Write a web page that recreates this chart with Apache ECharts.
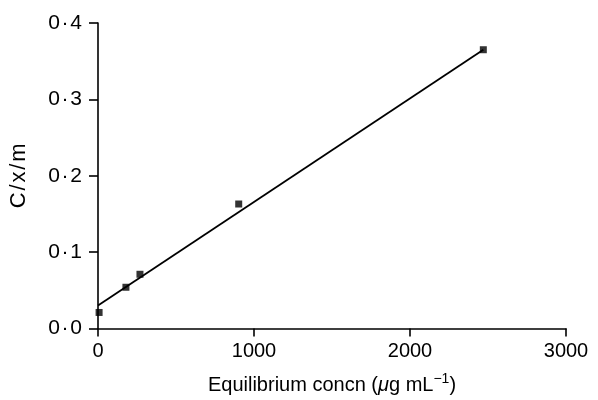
<!DOCTYPE html>
<html>
<head>
<meta charset="utf-8">
<script src="https://cdn.jsdelivr.net/npm/echarts@6/dist/echarts.min.js"></script>
<style>
  html, body { margin: 0; padding: 0; background: #fff; }
  #chart { width: 598px; height: 400px; }
</style>
</head>
<body>
<div id="chart"></div>
<script>
// measured points (equilibrium concn, C/x/m)
var concn = [7, 179, 269, 902, 2470];
var cxm = [0.021, 0.054, 0.071, 0.163, 0.365];
// fitted straight line, end points
var fitX = [0, 2470];
var fitY = [0.030, 0.365];

var xTicks = [0, 1000, 2000, 3000];
var yTicks = [0, 0.1, 0.2, 0.3, 0.4];

(function() {
  var chart = echarts.init(document.getElementById('chart'));
  var font = '"Liberation Sans", Arial, sans-serif';

  // 0.3 -> "0·3", with a little room round the dot
  function dotLabel(v) {
    return v.toFixed(1).replace('.', '\u200a·\u200a');
  }

  var option = {
    backgroundColor: '#fff',
    animation: false,
    grid: { left: 97, right: 32, top: 23, bottom: 68 },
    xAxis: {
      type: 'value',
      min: xTicks[0],
      max: xTicks[xTicks.length - 1],
      interval: 1000,
      name: 'Equilibrium concn ({mu|μ}g mL{sup|−1})',
      nameLocation: 'middle',
      nameGap: 44,
      nameTextStyle: {
        fontFamily: font, fontSize: 20, color: '#000',
        rich: {
          mu: { fontFamily: font, fontSize: 20, fontStyle: 'italic', color: '#000' },
          sup: { fontFamily: font, fontSize: 14, color: '#000', verticalAlign: 'top', padding: [0, 0, 11, 0] }
        }
      },
      axisLine: { lineStyle: { color: '#000', width: 1.6 } },
      axisTick: { show: true, inside: false, length: 8, lineStyle: { color: '#000', width: 1.6 } },
      axisLabel: {
        margin: 13, fontFamily: font, fontSize: 20, color: '#000',
        formatter: function(v) { return String(v); }
      },
      splitLine: { show: false }
    },
    yAxis: {
      type: 'value',
      min: yTicks[0],
      max: yTicks[yTicks.length - 1],
      interval: 0.1,
      name: 'C\u200a/\u200ax\u200a/\u200am',
      nameLocation: 'middle',
      nameGap: 68,
      nameTextStyle: { fontFamily: font, fontSize: 22, color: '#000' },
      axisLine: { show: true, lineStyle: { color: '#000', width: 1.6 } },
      axisTick: { show: true, inside: false, length: 9, lineStyle: { color: '#000', width: 1.6 } },
      axisLabel: { margin: 16, fontFamily: font, fontSize: 21, color: '#000', formatter: dotLabel },
      splitLine: { show: false }
    },
    series: [
      {
        type: 'line',
        data: fitX.map((x, i) => [x, fitY[i]]),
        showSymbol: false,
        lineStyle: { color: '#000', width: 1.8 },
        silent: true
      },
      {
        type: 'scatter',
        data: concn.map((x, i) => [x, cxm[i]]),
        symbol: 'rect',
        symbolSize: 7,
        itemStyle: { color: '#000' }
      }
    ]
  };
  chart.setOption(option);
})();
</script>
</body>
</html>
